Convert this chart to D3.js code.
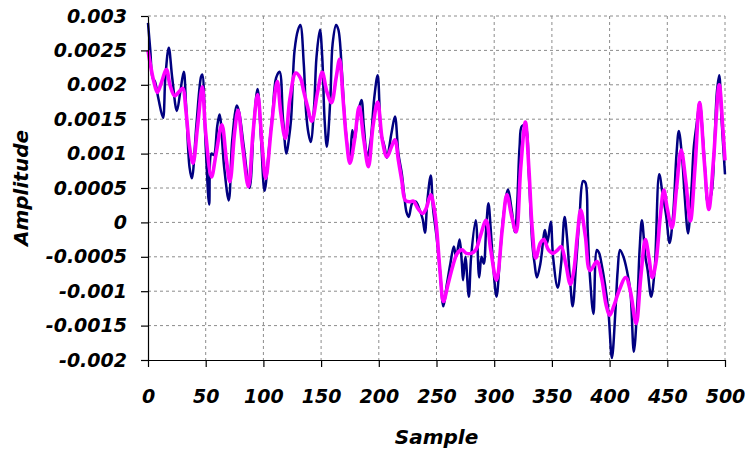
<!DOCTYPE html>
<html>
<head>
<meta charset="utf-8">
<script src="https://cdn.jsdelivr.net/npm/d3@7"></script>
<style>
  body { margin: 0; background: #fff; }
  .axis text { font-family: "DejaVu Sans", Verdana, sans-serif; font-weight: bold; font-style: italic; font-size: 19px; fill: #000; }
  .title { font-family: "DejaVu Sans", Verdana, sans-serif; font-weight: bold; font-style: italic; font-size: 20px; fill: #000; }
</style>
</head>
<body>
<div class="svg-container"></div>
<script>
var width = 745,
  height = 452;

// raw signal (navy)
var rawSample = [0, 2, 4, 6, 9, 13, 15, 18, 21, 25, 28, 31, 33, 36, 38, 42, 46, 47, 50, 53, 55, 57, 60, 62, 66, 70, 73, 77, 79, 83,
  88, 92, 95, 98, 101, 105, 108, 111, 114, 117, 120, 122, 124, 127, 130, 132, 135, 137, 139, 141, 144, 146, 149, 151, 153, 155,
  158, 160, 163, 165, 168, 171, 175, 177, 179, 182, 185, 187, 190, 193, 196, 199, 202, 205, 207, 211, 214, 217, 220, 222, 224,
  226, 229, 232, 235, 238, 240, 242, 245, 247, 250, 253, 256, 259, 262, 265, 267, 270, 272, 273, 275, 278, 280, 284, 287, 289,
  291, 293, 295, 297, 299, 302, 305, 308, 312, 315, 318, 320, 322, 324, 327, 330, 333, 335, 337, 340, 344, 346, 349, 351, 355,
  358, 361, 363, 366, 368, 371, 374, 377, 379, 381, 383, 386, 389, 391, 393, 396, 399, 402, 405, 407, 409, 412, 415, 418, 421,
  424, 426, 428, 431, 433, 436, 439, 443, 446, 449, 452, 455, 458, 460, 463, 465, 468, 471, 473, 476, 478, 481, 483, 485, 488,
  491, 493, 495, 497, 500];
var rawAmp = [0.0029, 0.0025, 0.0021, 0.00205, 0.0018, 0.00152, 0.0021, 0.00254, 0.0021, 0.00162, 0.0019, 0.00219, 0.0017,
  0.0008, 0.00064, 0.00143, 0.00212, 0.00215, 0.0011, 0.00026, 0.001, 0.00098, 0.0014, 0.00157, 0.0008, 0.00032, 0.0012,
  0.0017, 0.0016, 0.0011, 0.0005, 0.0015, 0.00194, 0.0012, 0.00046, 0.0011, 0.0016, 0.0021, 0.00219, 0.0015, 0.001, 0.0012,
  0.0015, 0.0025, 0.0028, 0.00287, 0.0023, 0.0016, 0.0013, 0.00117, 0.0017, 0.0024, 0.0028, 0.0024, 0.0015, 0.0011, 0.0018,
  0.0026, 0.00287, 0.0028, 0.0022, 0.0014, 0.00088, 0.00134, 0.0012, 0.0016, 0.00178, 0.0014, 0.00095, 0.0012, 0.0018,
  0.00214, 0.0013, 0.0011, 0.00094, 0.0013, 0.00154, 0.001, 0.0007, 0.0004, 0.00015, 0.00008, 0.00028, 0.0003, 0.0002,
  0.00005, -0.00015, 0.0003, 0.00068, 0.0002, -0.0002, -0.0007, -0.00122, -0.0009, -0.0006, -0.00035, -0.0005, -0.00025,
  -0.0006, -0.00084, -0.0005, -0.00108, -0.0005, 0.00003, -0.0008, -0.0005, -0.0006, -0.0001, 0.00028, -0.0001, -0.0006,
  -0.00108, -0.0005, 0.0001, 0.00048, 0.0002, -0.00014, 0.0003, 0.0011, 0.0014, 0.0014, 0.0007, -0.0003, -0.0006, -0.0008,
  -0.0006, -0.00011, -0.0003, 0.00001, -0.0005, -0.00095, -0.0006, 0.00008, -0.0002, -0.0009, -0.00122, -0.0006, 0.0001,
  0.0006, 0.00058, -0.0001, -0.0008, -0.00133, -0.0004, -0.00045, -0.0006, -0.0009, -0.0013, -0.00197, -0.0013, -0.0007,
  -0.0004, -0.0005, -0.0007, -0.001, -0.00188, -0.0012, -0.0004, 0.00003, -0.0005, -0.0007, -0.00108, -0.0007, 0.0007,
  0.0004, 0.0001, -0.0003, 0.0001, 0.001, 0.00133, 0.0009, 0.0004, -0.00016, 0.0005, 0.0011, 0.0015, 0.00175, 0.0012,
  0.0007, 0.0003, 0.0004, 0.0012, 0.0019, 0.00214, 0.0015, 0.0007];

// smoothed signal (magenta)
var smoothSample = [0, 2, 5, 8, 11, 16, 19, 23, 27, 30, 33, 36, 39, 43, 47, 50, 55, 59, 64, 68, 71, 75, 78, 82, 87, 91, 95,
  99, 102, 107, 112, 115, 119, 123, 128, 132, 135, 138, 142, 147, 151, 155, 159, 163, 166, 169, 172, 175, 179, 183, 187, 191,
  195, 199, 203, 207, 211, 214, 217, 220, 223, 227, 230, 234, 238, 241, 245, 248, 250, 253, 256, 260, 264, 268, 272, 276, 280,
  284, 288, 293, 297, 302, 307, 311, 315, 319, 323, 327, 330, 333, 336, 340, 343, 347, 351, 355, 358, 362, 366, 369, 372, 375,
  379, 383, 389, 393, 397, 400, 404, 408, 414, 418, 423, 427, 431, 434, 437, 440, 444, 447, 450, 454, 458, 462, 466, 470, 474,
  478, 482, 486, 490, 495, 498, 500];
var smoothAmp = [0.0025, 0.0023, 0.00205, 0.00189, 0.002, 0.00222, 0.002, 0.00184, 0.0019, 0.00195, 0.0016, 0.0011, 0.00086,
  0.0014, 0.00197, 0.0013, 0.00066, 0.001, 0.00142, 0.0009, 0.00059, 0.0013, 0.00163, 0.0011, 0.00052, 0.0013, 0.00186,
  0.0011, 0.00064, 0.0014, 0.00205, 0.0016, 0.00122, 0.0018, 0.00217, 0.0021, 0.0019, 0.0017, 0.00147, 0.0019, 0.00218,
  0.0019, 0.00174, 0.0021, 0.00237, 0.0018, 0.0012, 0.00086, 0.0012, 0.00168, 0.0012, 0.00081, 0.0014, 0.00175, 0.0012,
  0.00095, 0.0011, 0.0012, 0.0009, 0.0006, 0.00032, 0.0003, 0.00031, 0.0002, 0.00013, 0.0002, 0.0004, 0.0002, -0.00007,
  -0.0007, -0.00115, -0.0009, -0.00064, -0.00045, -0.0004, -0.00045, -0.00045, -0.0004, -0.0002, 0.00003, -0.0004, -0.00084,
  -0.0001, 0.0004, 0.0001, -0.00014, 0.0008, 0.00146, 0.0008, -0.0001, -0.00052, -0.0003, -0.00025, -0.0004, -0.00045,
  -0.0004, -0.00035, -0.0006, -0.0009, -0.0007, -0.0002, 0.00018, -0.0002, -0.0007, -0.00057, -0.0008, -0.0012, -0.00135,
  -0.0012, -0.001, -0.0008, -0.001, -0.00147, -0.0008, -0.00025, -0.0005, -0.0008, -0.0006, 0.0001, 0.00047, 0.0002,
  -0.00008, 0.0005, 0.00105, 0.0006, 0.00002, 0.0008, 0.00174, 0.0009, 0.00019, 0.0009, 0.002, 0.0014, 0.0009];

var xTicks = [0, 50, 100, 150, 200, 250, 300, 350, 400, 450, 500];
var yTicks = [-0.002, -0.0015, -0.001, -0.0005, 0, 0.0005, 0.001, 0.0015, 0.002, 0.0025, 0.003];

var svg = d3.select(".svg-container").append("svg")
  .attr("width", width)
  .attr("height", height);

var x = d3.scaleLinear().domain([0, 500]).range([148, 725]);
var y = d3.scaleLinear().domain([-0.002, 0.003]).range([360, 16]);

// grid
svg.selectAll(".hgrid")
  .data(yTicks.slice(1))
  .enter()
  .append("line")
  .attr("x1", x(0)).attr("x2", x(500))
  .attr("y1", function(d) { return y(d); })
  .attr("y2", function(d) { return y(d); })
  .attr("stroke", "#8c8c8c")
  .attr("stroke-width", 1)
  .attr("stroke-dasharray", "3,3");

svg.selectAll(".vgrid")
  .data(xTicks.slice(1))
  .enter()
  .append("line")
  .attr("y1", y(0.003)).attr("y2", y(-0.002))
  .attr("x1", function(d) { return x(d); })
  .attr("x2", function(d) { return x(d); })
  .attr("stroke", "#8c8c8c")
  .attr("stroke-width", 1)
  .attr("stroke-dasharray", "3,3");

var line = d3.line()
  .x(function(d) { return x(d[0]); })
  .y(function(d) { return y(d[1]); })
  .curve(d3.curveCatmullRom.alpha(0.5));

svg.append("path")
  .datum(d3.zip(rawSample, rawAmp))
  .attr("d", line)
  .attr("fill", "none")
  .attr("stroke", "#000080")
  .attr("stroke-width", 2.5);

svg.append("path")
  .datum(d3.zip(smoothSample, smoothAmp))
  .attr("d", line)
  .attr("fill", "none")
  .attr("stroke", "#ff00ff")
  .attr("stroke-width", 3.6);

// axes
var xAxis = svg.append("g")
  .attr("class", "axis")
  .attr("transform", "translate(0," + y(-0.002) + ")")
  .call(d3.axisBottom(x).tickValues(xTicks).tickSize(7).tickPadding(23).tickSizeOuter(0)
    .tickFormat(function(d) { return String(d); }));

var yAxis = svg.append("g")
  .attr("class", "axis")
  .attr("transform", "translate(" + x(0) + ",0)")
  .call(d3.axisLeft(y).tickValues(yTicks).tickSize(7).tickPadding(14).tickSizeOuter(0)
    .tickFormat(function(d) { return String(d); }));

svg.selectAll(".axis path, .axis line")
  .attr("stroke", "#000")
  .attr("stroke-width", 1.2);

svg.append("text")
  .attr("class", "title")
  .attr("x", (x(0) + x(500)) / 2)
  .attr("y", 444)
  .attr("text-anchor", "middle")
  .text("Sample");

svg.append("text")
  .attr("class", "title")
  .attr("transform", "translate(28," + (y(-0.002) + y(0.003)) / 2 + ") rotate(-90)")
  .attr("text-anchor", "middle")
  .text("Amplitude");
</script>
</body>
</html>
